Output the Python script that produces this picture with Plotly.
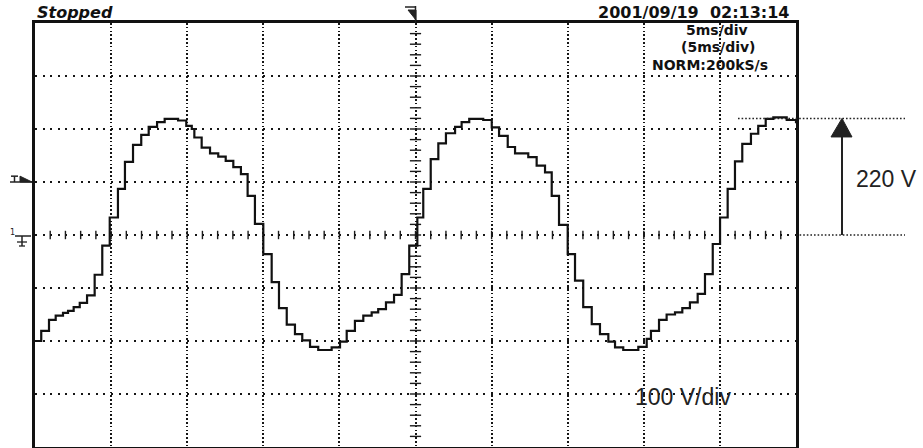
import numpy as np
import plotly.graph_objects as go

# Captured output voltage: step start times (ms) and held levels (V)
t_ms = [
    0.00, 0.41, 0.92, 1.36, 1.84, 2.17, 2.54, 2.94, 3.42, 3.92, 4.42, 4.91,
    5.45, 5.91, 6.44, 6.98, 7.47, 8.02, 8.52, 9.40, 9.94, 10.30, 10.47, 10.95,
    11.50, 12.04, 12.53, 13.03, 13.53, 13.97, 14.45, 15.00, 15.55, 16.03, 16.54,
    17.08, 17.56, 18.07, 18.61, 19.49, 20.04,
    20.48, 21.02, 21.57, 22.12, 22.55, 23.06, 23.59, 24.09, 24.59, 25.12, 25.51,
    26.00, 26.50, 27.00, 27.60, 28.03, 28.53, 29.45, 30.01, 30.49, 31.06, 31.54,
    32.41, 32.96, 33.51, 33.95, 34.43, 35.00, 35.48, 36.02, 36.58, 37.12, 37.67,
    38.11, 38.65, 39.64, 40.19,
    40.47, 41.00, 41.50, 42.05, 42.53, 43.03, 43.54, 44.02, 44.53, 45.01, 45.51,
    45.99, 46.47, 47.04, 47.52, 48.01, 48.51, 49.39, 50.00,
]
v_volt = [
    -200, -181, -160, -152, -147, -143, -136, -128, -114, -75, -20, 33,
    87, 138, 170, 189, 204, 213, 219, 216, 206, 200, 184, 165,
    154, 148, 140, 128, 115, 74, 21, -36, -89, -138, -169,
    -187, -199, -211, -217, -212, -201,
    -181, -162, -152, -146, -140, -127, -113, -74, -20, 33, 87,
    143, 173, 192, 204, 213, 219, 217, 203, 187, 166, 154,
    147, 131, 118, 74, 19, -36, -86, -136, -168, -187, -201,
    -212, -217, -211, -196,
    -181, -160, -150, -146, -138, -127, -111, -74, -17, 33, 87,
    139, 172, 191, 206, 219, 222, 217, 211,
]

# Screen settings
ms_per_div = 5
v_per_div = 100
n_xdiv, n_ydiv = 10, 8
peak_label_v = 220
trigger_level_v = 100

x_max = ms_per_div * n_xdiv
y_half = v_per_div * n_ydiv / 2

# Plot-area geometry in pixels (for placing off-screen labels)
W, H = 923, 448
L, R, T, B = 35, 127, 23, 1
pw, ph = W - L - R, H - T - B


def px_x(px):
    return (px - L) / pw


def px_y(py):
    return (H - B - py) / ph


fig = go.Figure()

# Minor ticks on the centre cross-hair (5 per division)
tick_t = np.arange(ms_per_div / 5, x_max, ms_per_div / 5)
tick_v = np.arange(-y_half + v_per_div / 5, y_half, v_per_div / 5)
fig.add_trace(go.Scatter(
    x=tick_t, y=np.zeros_like(tick_t), mode="markers",
    marker=dict(symbol="line-ns", size=6, line=dict(width=1.4, color="#1a1a1a")),
    hoverinfo="skip", showlegend=False,
))
fig.add_trace(go.Scatter(
    x=np.full_like(tick_v, x_max / 2), y=tick_v, mode="markers",
    marker=dict(symbol="line-ew", size=8, line=dict(width=1.4, color="#1a1a1a")),
    hoverinfo="skip", showlegend=False,
))

# Stepped waveform
fig.add_trace(go.Scatter(
    x=t_ms, y=v_volt, mode="lines", line_shape="hv",
    line=dict(color="#111111", width=2.2),
    hoverinfo="skip", showlegend=False,
))

grid_col = "#151515"
fig.update_xaxes(
    range=[0, x_max], dtick=ms_per_div, tick0=0,
    showgrid=True, gridcolor=grid_col, gridwidth=1.6, griddash="1.6px,2.2px",
    showticklabels=False, ticks="", zeroline=False,
    showline=True, linecolor="#111", linewidth=2.5, mirror=True,
)
fig.update_yaxes(
    range=[-y_half, y_half], dtick=v_per_div, tick0=0,
    showgrid=True, gridcolor=grid_col, gridwidth=1.8, griddash="2px,5.6px",
    showticklabels=False, ticks="", zeroline=False,
    showline=True, linecolor="#111", linewidth=2.5, mirror=True,
)

shapes = []
# 220 V reference lines outside the screen
shapes.append(dict(type="line", xref="paper", yref="y",
                   x0=px_x(738), x1=px_x(905), y0=peak_label_v, y1=peak_label_v,
                   line=dict(color="#222", width=1.5, dash="1.6px,2px")))
shapes.append(dict(type="line", xref="paper", yref="y",
                   x0=1.0, x1=px_x(905), y0=0, y1=0,
                   line=dict(color="#222", width=1.5, dash="1.6px,2px")))
# Arrow
ax_c = px_x(842)
shapes.append(dict(type="line", xref="paper", yref="y",
                   x0=ax_c, x1=ax_c, y0=0, y1=190,
                   line=dict(color="#222", width=2)))
shapes.append(dict(type="path", xref="paper", yref="y",
                   path=f"M {px_x(831)},185 L {ax_c},{peak_label_v} L {px_x(852)},185 Z",
                   fillcolor="#222", line=dict(color="#222", width=1)))

# Trigger-level marker on the left
tl_top = trigger_level_v + 11
shapes.append(dict(type="path", xref="paper", yref="y",
                   path=f"M {px_x(20)},{tl_top} L {px_x(32)},{trigger_level_v} L {px_x(20)},{trigger_level_v} Z",
                   fillcolor="#222", line=dict(color="#222", width=1)))
shapes.append(dict(type="line", xref="paper", yref="y",
                   x0=px_x(10), x1=px_x(32), y0=trigger_level_v, y1=trigger_level_v,
                   line=dict(color="#222", width=1.5)))
shapes.append(dict(type="line", xref="paper", yref="y",
                   x0=px_x(11), x1=px_x(18), y0=tl_top, y1=tl_top,
                   line=dict(color="#222", width=1.5)))
shapes.append(dict(type="line", xref="paper", yref="y",
                   x0=px_x(14.5), x1=px_x(14.5), y0=tl_top, y1=trigger_level_v,
                   line=dict(color="#222", width=1.5)))

# Ground marker for channel 1
shapes.append(dict(type="line", xref="paper", yref="paper",
                   x0=px_x(15), x1=px_x(31), y0=px_y(236), y1=px_y(236),
                   line=dict(color="#222", width=1.5)))
shapes.append(dict(type="line", xref="paper", yref="paper",
                   x0=px_x(22), x1=px_x(22), y0=px_y(236), y1=px_y(246),
                   line=dict(color="#222", width=1.5)))
shapes.append(dict(type="line", xref="paper", yref="paper",
                   x0=px_x(17), x1=px_x(27), y0=px_y(242), y1=px_y(242),
                   line=dict(color="#222", width=1.3)))
shapes.append(dict(type="line", xref="paper", yref="paper",
                   x0=px_x(19), x1=px_x(25), y0=px_y(246), y1=px_y(246),
                   line=dict(color="#222", width=1.3)))

# Trigger-position marker on top
shapes.append(dict(type="line", xref="x", yref="paper",
                   x0=x_max / 2, x1=x_max / 2, y0=px_y(6), y1=1.0,
                   line=dict(color="#222", width=1.5)))
shapes.append(dict(type="line", xref="paper", yref="paper",
                   x0=px_x(405), x1=px_x(416), y0=px_y(7), y1=px_y(7),
                   line=dict(color="#222", width=1.5)))
shapes.append(dict(type="path", xref="paper", yref="paper",
                   path=f"M {px_x(408)},{px_y(10)} L {px_x(416)},{px_y(10)} L {px_x(416)},{px_y(20)} Z",
                   fillcolor="#222", line=dict(color="#222", width=1)))

fig.update_layout(shapes=shapes)

hdr_font = dict(family="DejaVu Sans", size=16, color="#111", weight="bold")
stack_font = dict(family="DejaVu Sans", size=14, color="#111", weight="bold")
annotations = [
    dict(text="Stopped", xref="paper", yref="paper", x=0, y=px_y(13),
         xanchor="left", yanchor="middle", showarrow=False,
         font=dict(hdr_font, style="italic")),
    dict(text="2001/09/19\u00a0\u00a002:13:14", xref="paper", yref="paper",
         x=px_x(791), y=px_y(12), xanchor="right", yanchor="middle",
         showarrow=False, font=hdr_font),
    dict(text=f"{ms_per_div}ms/div", xref="paper", yref="paper",
         x=px_x(717), y=px_y(30), xanchor="center", yanchor="middle",
         showarrow=False, font=stack_font),
    dict(text=f"({ms_per_div}ms/div)", xref="paper", yref="paper",
         x=px_x(718), y=px_y(47.5), xanchor="center", yanchor="middle",
         showarrow=False, font=stack_font),
    dict(text="NORM:200kS/s", xref="paper", yref="paper",
         x=px_x(710), y=px_y(65), xanchor="center", yanchor="middle",
         showarrow=False, font=stack_font),
    dict(text="1", xref="paper", yref="paper", x=px_x(12), y=px_y(233),
         xanchor="center", yanchor="middle", showarrow=False,
         font=dict(family="DejaVu Sans", size=8, color="#222")),
    dict(text=f"{peak_label_v} V", xref="paper", yref="y", x=px_x(854), y=106,
         xanchor="left", yanchor="middle", showarrow=False,
         font=dict(family="Liberation Sans", size=23, color="#222")),
    dict(text=f"{v_per_div} V/div", xref="x", yref="y", x=42.6, y=-306,
         xanchor="center", yanchor="middle", showarrow=False,
         font=dict(family="Liberation Sans", size=23, color="#222")),
]
fig.update_layout(annotations=annotations)

fig.update_layout(
    width=W, height=H,
    margin=dict(l=L, r=R, t=T, b=B),
    paper_bgcolor="white", plot_bgcolor="white",
    showlegend=False,
)

fig.write_html("out.html")
